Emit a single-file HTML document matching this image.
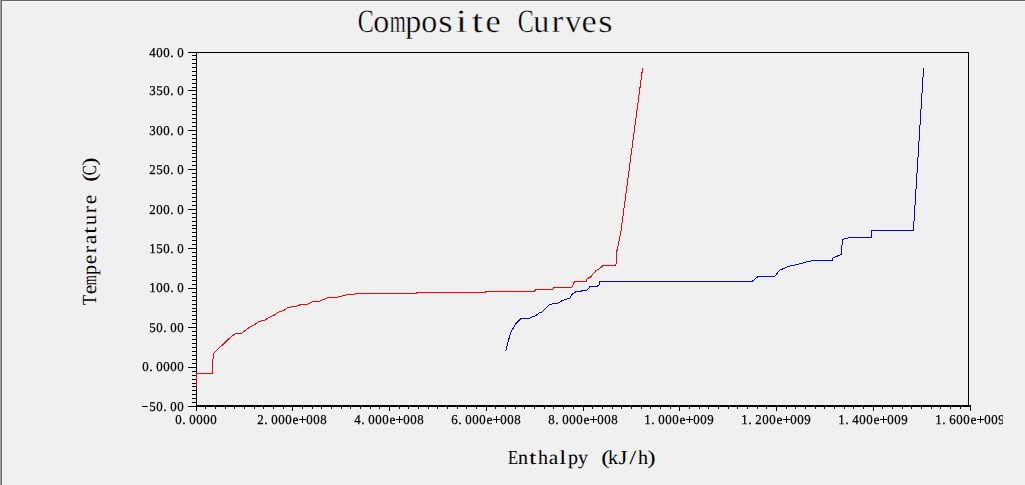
<!DOCTYPE html>
<html><head><meta charset="utf-8"><title>Composite Curves</title>
<style>
html,body{margin:0;padding:0;}
body{width:1025px;height:485px;overflow:hidden;background:#f0f0f0;position:relative;font-family:"Liberation Serif",serif;color:#000;}
svg{position:absolute;left:0;top:0;}
.t{position:absolute;left:0;top:0;width:0;height:0;}
.t span{text-rendering:geometricPrecision;position:absolute;white-space:pre;line-height:1;transform-origin:50% 50%;}
.t i{position:absolute;background:#000;display:block;}
.s{will-change:transform;}
.s span{font-size:13.5px;-webkit-text-stroke:0.25px #000;}
.a span{font-size:20px;}
.h span{font-size:32.6px;-webkit-text-stroke:0.35px #f0f0f0;}
.clip{position:absolute;left:0;top:0;width:1003px;height:485px;overflow:hidden;}
</style></head><body>

<svg width="1025" height="485" viewBox="0 0 1025 485" shape-rendering="crispEdges">
<rect x="0" y="0" width="1" height="485" fill="#a0a0a0"/>
<rect x="1" y="0" width="1024" height="1" fill="#646464"/>
<rect x="1" y="0" width="1" height="485" fill="#696969"/>
<rect x="2" y="1" width="1023" height="1" fill="#f7f7f7"/>
<rect x="2" y="1" width="1" height="484" fill="#f7f7f7"/>
<rect x="196" y="52" width="773" height="1" fill="#000"/>
<rect x="968" y="52" width="1" height="354" fill="#000"/>
<rect x="196" y="52" width="1" height="355" fill="#000"/>
<rect x="196" y="405" width="775" height="2" fill="#000"/>
<rect x="188" y="52" width="8" height="1" fill="#000"/>
<rect x="192" y="55" width="4" height="1" fill="#000"/>
<rect x="192" y="59" width="4" height="1" fill="#000"/>
<rect x="192" y="63" width="4" height="1" fill="#000"/>
<rect x="192" y="67" width="4" height="1" fill="#000"/>
<rect x="192" y="71" width="4" height="1" fill="#000"/>
<rect x="192" y="75" width="4" height="1" fill="#000"/>
<rect x="192" y="79" width="4" height="1" fill="#000"/>
<rect x="192" y="83" width="4" height="1" fill="#000"/>
<rect x="192" y="87" width="4" height="1" fill="#000"/>
<rect x="188" y="90" width="8" height="1" fill="#000"/>
<rect x="192" y="94" width="4" height="1" fill="#000"/>
<rect x="192" y="98" width="4" height="1" fill="#000"/>
<rect x="192" y="102" width="4" height="1" fill="#000"/>
<rect x="192" y="106" width="4" height="1" fill="#000"/>
<rect x="192" y="110" width="4" height="1" fill="#000"/>
<rect x="192" y="114" width="4" height="1" fill="#000"/>
<rect x="192" y="118" width="4" height="1" fill="#000"/>
<rect x="192" y="122" width="4" height="1" fill="#000"/>
<rect x="192" y="126" width="4" height="1" fill="#000"/>
<rect x="188" y="130" width="8" height="1" fill="#000"/>
<rect x="192" y="134" width="4" height="1" fill="#000"/>
<rect x="192" y="138" width="4" height="1" fill="#000"/>
<rect x="192" y="142" width="4" height="1" fill="#000"/>
<rect x="192" y="146" width="4" height="1" fill="#000"/>
<rect x="192" y="150" width="4" height="1" fill="#000"/>
<rect x="192" y="153" width="4" height="1" fill="#000"/>
<rect x="192" y="157" width="4" height="1" fill="#000"/>
<rect x="192" y="161" width="4" height="1" fill="#000"/>
<rect x="192" y="165" width="4" height="1" fill="#000"/>
<rect x="188" y="169" width="8" height="1" fill="#000"/>
<rect x="192" y="173" width="4" height="1" fill="#000"/>
<rect x="192" y="177" width="4" height="1" fill="#000"/>
<rect x="192" y="181" width="4" height="1" fill="#000"/>
<rect x="192" y="185" width="4" height="1" fill="#000"/>
<rect x="192" y="189" width="4" height="1" fill="#000"/>
<rect x="192" y="193" width="4" height="1" fill="#000"/>
<rect x="192" y="197" width="4" height="1" fill="#000"/>
<rect x="192" y="201" width="4" height="1" fill="#000"/>
<rect x="192" y="205" width="4" height="1" fill="#000"/>
<rect x="188" y="209" width="8" height="1" fill="#000"/>
<rect x="192" y="213" width="4" height="1" fill="#000"/>
<rect x="192" y="217" width="4" height="1" fill="#000"/>
<rect x="192" y="221" width="4" height="1" fill="#000"/>
<rect x="192" y="225" width="4" height="1" fill="#000"/>
<rect x="192" y="228" width="4" height="1" fill="#000"/>
<rect x="192" y="232" width="4" height="1" fill="#000"/>
<rect x="192" y="236" width="4" height="1" fill="#000"/>
<rect x="192" y="240" width="4" height="1" fill="#000"/>
<rect x="192" y="244" width="4" height="1" fill="#000"/>
<rect x="188" y="248" width="8" height="1" fill="#000"/>
<rect x="192" y="252" width="4" height="1" fill="#000"/>
<rect x="192" y="256" width="4" height="1" fill="#000"/>
<rect x="192" y="260" width="4" height="1" fill="#000"/>
<rect x="192" y="264" width="4" height="1" fill="#000"/>
<rect x="192" y="268" width="4" height="1" fill="#000"/>
<rect x="192" y="272" width="4" height="1" fill="#000"/>
<rect x="192" y="276" width="4" height="1" fill="#000"/>
<rect x="192" y="280" width="4" height="1" fill="#000"/>
<rect x="192" y="284" width="4" height="1" fill="#000"/>
<rect x="188" y="288" width="8" height="1" fill="#000"/>
<rect x="192" y="292" width="4" height="1" fill="#000"/>
<rect x="192" y="296" width="4" height="1" fill="#000"/>
<rect x="192" y="300" width="4" height="1" fill="#000"/>
<rect x="192" y="304" width="4" height="1" fill="#000"/>
<rect x="192" y="308" width="4" height="1" fill="#000"/>
<rect x="192" y="311" width="4" height="1" fill="#000"/>
<rect x="192" y="315" width="4" height="1" fill="#000"/>
<rect x="192" y="319" width="4" height="1" fill="#000"/>
<rect x="192" y="323" width="4" height="1" fill="#000"/>
<rect x="188" y="327" width="8" height="1" fill="#000"/>
<rect x="192" y="331" width="4" height="1" fill="#000"/>
<rect x="192" y="335" width="4" height="1" fill="#000"/>
<rect x="192" y="339" width="4" height="1" fill="#000"/>
<rect x="192" y="343" width="4" height="1" fill="#000"/>
<rect x="192" y="347" width="4" height="1" fill="#000"/>
<rect x="192" y="351" width="4" height="1" fill="#000"/>
<rect x="192" y="355" width="4" height="1" fill="#000"/>
<rect x="192" y="359" width="4" height="1" fill="#000"/>
<rect x="192" y="363" width="4" height="1" fill="#000"/>
<rect x="188" y="367" width="8" height="1" fill="#000"/>
<rect x="192" y="371" width="4" height="1" fill="#000"/>
<rect x="192" y="375" width="4" height="1" fill="#000"/>
<rect x="192" y="379" width="4" height="1" fill="#000"/>
<rect x="192" y="383" width="4" height="1" fill="#000"/>
<rect x="192" y="386" width="4" height="1" fill="#000"/>
<rect x="192" y="390" width="4" height="1" fill="#000"/>
<rect x="192" y="394" width="4" height="1" fill="#000"/>
<rect x="192" y="398" width="4" height="1" fill="#000"/>
<rect x="192" y="402" width="4" height="1" fill="#000"/>
<rect x="188" y="406" width="8" height="1" fill="#000"/>
<rect x="196" y="407" width="1" height="4" fill="#000"/>
<rect x="205" y="407" width="1" height="2" fill="#000"/>
<rect x="215" y="407" width="1" height="2" fill="#000"/>
<rect x="225" y="407" width="1" height="2" fill="#000"/>
<rect x="234" y="407" width="1" height="2" fill="#000"/>
<rect x="244" y="407" width="1" height="2" fill="#000"/>
<rect x="254" y="407" width="1" height="2" fill="#000"/>
<rect x="263" y="407" width="1" height="2" fill="#000"/>
<rect x="273" y="407" width="1" height="2" fill="#000"/>
<rect x="283" y="407" width="1" height="2" fill="#000"/>
<rect x="292" y="407" width="1" height="4" fill="#000"/>
<rect x="302" y="407" width="1" height="2" fill="#000"/>
<rect x="312" y="407" width="1" height="2" fill="#000"/>
<rect x="321" y="407" width="1" height="2" fill="#000"/>
<rect x="331" y="407" width="1" height="2" fill="#000"/>
<rect x="341" y="407" width="1" height="2" fill="#000"/>
<rect x="350" y="407" width="1" height="2" fill="#000"/>
<rect x="360" y="407" width="1" height="2" fill="#000"/>
<rect x="370" y="407" width="1" height="2" fill="#000"/>
<rect x="379" y="407" width="1" height="2" fill="#000"/>
<rect x="389" y="407" width="1" height="4" fill="#000"/>
<rect x="399" y="407" width="1" height="2" fill="#000"/>
<rect x="408" y="407" width="1" height="2" fill="#000"/>
<rect x="418" y="407" width="1" height="2" fill="#000"/>
<rect x="428" y="407" width="1" height="2" fill="#000"/>
<rect x="437" y="407" width="1" height="2" fill="#000"/>
<rect x="447" y="407" width="1" height="2" fill="#000"/>
<rect x="457" y="407" width="1" height="2" fill="#000"/>
<rect x="466" y="407" width="1" height="2" fill="#000"/>
<rect x="476" y="407" width="1" height="2" fill="#000"/>
<rect x="486" y="407" width="1" height="4" fill="#000"/>
<rect x="495" y="407" width="1" height="2" fill="#000"/>
<rect x="505" y="407" width="1" height="2" fill="#000"/>
<rect x="515" y="407" width="1" height="2" fill="#000"/>
<rect x="524" y="407" width="1" height="2" fill="#000"/>
<rect x="534" y="407" width="1" height="2" fill="#000"/>
<rect x="544" y="407" width="1" height="2" fill="#000"/>
<rect x="553" y="407" width="1" height="2" fill="#000"/>
<rect x="563" y="407" width="1" height="2" fill="#000"/>
<rect x="573" y="407" width="1" height="2" fill="#000"/>
<rect x="583" y="407" width="1" height="4" fill="#000"/>
<rect x="592" y="407" width="1" height="2" fill="#000"/>
<rect x="602" y="407" width="1" height="2" fill="#000"/>
<rect x="612" y="407" width="1" height="2" fill="#000"/>
<rect x="621" y="407" width="1" height="2" fill="#000"/>
<rect x="631" y="407" width="1" height="2" fill="#000"/>
<rect x="641" y="407" width="1" height="2" fill="#000"/>
<rect x="650" y="407" width="1" height="2" fill="#000"/>
<rect x="660" y="407" width="1" height="2" fill="#000"/>
<rect x="670" y="407" width="1" height="2" fill="#000"/>
<rect x="679" y="407" width="1" height="4" fill="#000"/>
<rect x="689" y="407" width="1" height="2" fill="#000"/>
<rect x="699" y="407" width="1" height="2" fill="#000"/>
<rect x="708" y="407" width="1" height="2" fill="#000"/>
<rect x="718" y="407" width="1" height="2" fill="#000"/>
<rect x="728" y="407" width="1" height="2" fill="#000"/>
<rect x="737" y="407" width="1" height="2" fill="#000"/>
<rect x="747" y="407" width="1" height="2" fill="#000"/>
<rect x="757" y="407" width="1" height="2" fill="#000"/>
<rect x="766" y="407" width="1" height="2" fill="#000"/>
<rect x="776" y="407" width="1" height="4" fill="#000"/>
<rect x="786" y="407" width="1" height="2" fill="#000"/>
<rect x="795" y="407" width="1" height="2" fill="#000"/>
<rect x="805" y="407" width="1" height="2" fill="#000"/>
<rect x="815" y="407" width="1" height="2" fill="#000"/>
<rect x="824" y="407" width="1" height="2" fill="#000"/>
<rect x="834" y="407" width="1" height="2" fill="#000"/>
<rect x="844" y="407" width="1" height="2" fill="#000"/>
<rect x="853" y="407" width="1" height="2" fill="#000"/>
<rect x="863" y="407" width="1" height="2" fill="#000"/>
<rect x="873" y="407" width="1" height="4" fill="#000"/>
<rect x="882" y="407" width="1" height="2" fill="#000"/>
<rect x="892" y="407" width="1" height="2" fill="#000"/>
<rect x="902" y="407" width="1" height="2" fill="#000"/>
<rect x="911" y="407" width="1" height="2" fill="#000"/>
<rect x="921" y="407" width="1" height="2" fill="#000"/>
<rect x="931" y="407" width="1" height="2" fill="#000"/>
<rect x="940" y="407" width="1" height="2" fill="#000"/>
<rect x="950" y="407" width="1" height="2" fill="#000"/>
<rect x="960" y="407" width="1" height="2" fill="#000"/>
<rect x="970" y="407" width="1" height="4" fill="#000"/>
<polyline points="196.5,387.0 196.5,373.5 212.5,373.5 212.5,359.5 213.5,358.5 213.5,354.0 214.5,352.4 218.8,348.4 227.5,340.0 230.8,337.0 235.8,333.4 241.2,333.4 250.6,326.6 254.9,324.6 258.6,321.4 264.3,320.4 269.2,317.2 274.2,315.2 277.9,312.3 284.1,310.3 288.3,307.3 296.5,306.4 300.5,304.5 307.5,304.5 312.5,301.5 318.5,301.5 328.5,297.5 336.5,297.5 347.5,294.5 354.5,294.5 355.5,293.5 416.2,293.5 417.2,292.5 485.0,292.5 486.0,291.5 533.7,291.5 536.2,289.6 552.3,289.6 554.0,287.5 571.9,287.5 574.4,281.5 586.2,281.5 586.9,279.0 590.6,276.9 596.2,270.4 598.7,269.4 603.1,265.5 615.5,265.5 616.5,263.0 616.5,253.0 621.0,231.0 642.6,68.0" fill="none" stroke="#ff0000" stroke-width="1" stroke-linejoin="miter"/>
<polyline points="505.7,350.8 510.4,333.3 515.5,323.9 521.2,318.2 529.2,318.2 535.7,315.7 539.3,312.7 542.2,312.1 548.7,305.2 553.7,303.4 558.0,303.0 562.4,300.5 570.2,298.0 571.6,294.6 573.1,293.6 576.2,291.5 581.2,291.2 582.5,290.5 587.4,290.0 589.8,286.6 596.9,286.3 599.4,285.0 599.6,281.5 752.0,281.5 758.0,276.5 774.7,276.5 779.4,270.4 788.1,266.5 795.0,265.0 801.2,263.5 807.5,261.5 813.7,260.5 832.5,260.5 832.8,258.1 841.3,254.4 842.5,239.4 846.2,238.2 852.5,237.5 871.5,237.5 871.5,230.5 913.4,230.5 923.6,67.8" fill="none" stroke="#0000ff" stroke-width="1" stroke-linejoin="miter"/>
</svg>
<div class="t h"><span style="left:354.63px;top:6.20px;transform:scale(0.736,1.000);transform-origin:50% 27.30px;">C</span><span style="left:373.35px;top:6.20px;transform:scale(0.982,1.000);transform-origin:50% 27.30px;">o</span><span style="left:384.82px;top:6.20px;transform:scale(0.631,1.000);transform-origin:50% 27.30px;">m</span><span style="left:405.35px;top:6.20px;transform:scale(0.982,1.000);transform-origin:50% 27.30px;">p</span><span style="left:421.35px;top:6.20px;transform:scale(0.982,1.000);transform-origin:50% 27.30px;">o</span><span style="left:439.16px;top:6.20px;transform:scale(1.131,1.000);transform-origin:50% 27.30px;">s</span><span style="left:456.97px;top:6.20px;transform:scale(1.250,1.000);transform-origin:50% 27.30px;">i</span><span style="left:472.97px;top:6.20px;transform:scale(1.250,1.000);transform-origin:50% 27.30px;">t</span><span style="left:486.27px;top:6.20px;transform:scale(1.053,1.000);transform-origin:50% 27.30px;">e</span><span style="left:514.63px;top:6.20px;transform:scale(0.736,1.000);transform-origin:50% 27.30px;">C</span><span style="left:533.35px;top:6.20px;transform:scale(0.982,1.000);transform-origin:50% 27.30px;">u</span><span style="left:552.07px;top:6.20px;transform:scale(1.080,1.000);transform-origin:50% 27.30px;">r</span><span style="left:565.35px;top:6.20px;transform:scale(0.982,1.000);transform-origin:50% 27.30px;">v</span><span style="left:582.27px;top:6.20px;transform:scale(1.053,1.000);transform-origin:50% 27.30px;">e</span><span style="left:599.16px;top:6.20px;transform:scale(1.131,1.000);transform-origin:50% 27.30px;">s</span></div>
<div class="t a"><span style="left:506.89px;top:447.95px;transform:scale(0.819,1.000);transform-origin:50% 16.75px;">E</span><span style="left:518.00px;top:447.95px;">n</span><span style="left:530.22px;top:447.95px;transform:scale(1.250,1.000);transform-origin:50% 16.75px;">t</span><span style="left:538.00px;top:447.95px;">h</span><span style="left:548.56px;top:447.95px;transform:scale(1.063,1.000);transform-origin:50% 16.75px;">a</span><span style="left:560.22px;top:447.95px;transform:scale(1.250,1.000);transform-origin:50% 16.75px;">l</span><span style="left:568.00px;top:447.95px;">p</span><span style="left:578.00px;top:447.95px;">y</span><span style="left:601.67px;top:447.95px;transform:scale(1.250,1.000);transform-origin:50% 16.75px;">(</span><span style="left:608.00px;top:447.95px;">k</span><span style="left:619.11px;top:447.95px;transform:scale(1.142,1.000);transform-origin:50% 16.75px;">J</span><span style="left:630.22px;top:447.95px;transform:scale(1.250,1.000);transform-origin:50% 16.75px;">/</span><span style="left:638.00px;top:447.95px;">h</span><span style="left:647.67px;top:447.95px;transform:scale(1.250,1.000);transform-origin:50% 16.75px;">)</span></div>
<div class="t a" style="transform:translate(96.5px,305px) rotate(-90deg);transform-origin:0 0;"><span style="left:-1.11px;top:-16.75px;transform:scale(0.819,1.000);transform-origin:50% 16.75px;">T</span><span style="left:10.56px;top:-16.75px;transform:scale(1.063,1.000);transform-origin:50% 16.75px;">e</span><span style="left:17.22px;top:-16.75px;transform:scale(0.643,1.000);transform-origin:50% 16.75px;">m</span><span style="left:30.00px;top:-16.75px;">p</span><span style="left:40.56px;top:-16.75px;transform:scale(1.063,1.000);transform-origin:50% 16.75px;">e</span><span style="left:51.67px;top:-16.75px;transform:scale(1.080,1.000);transform-origin:50% 16.75px;">r</span><span style="left:60.56px;top:-16.75px;transform:scale(1.063,1.000);transform-origin:50% 16.75px;">a</span><span style="left:72.22px;top:-16.75px;transform:scale(1.250,1.000);transform-origin:50% 16.75px;">t</span><span style="left:80.00px;top:-16.75px;">u</span><span style="left:91.67px;top:-16.75px;transform:scale(1.080,1.000);transform-origin:50% 16.75px;">r</span><span style="left:100.56px;top:-16.75px;transform:scale(1.063,1.000);transform-origin:50% 16.75px;">e</span><span style="left:123.67px;top:-16.75px;transform:scale(1.250,1.000);transform-origin:50% 16.75px;">(</span><span style="left:128.33px;top:-16.75px;transform:scale(0.750,1.000);transform-origin:50% 16.75px;">C</span><span style="left:139.67px;top:-16.75px;transform:scale(1.250,1.000);transform-origin:50% 16.75px;">)</span></div>
<div class="t s"><span style="left:149.12px;top:45.89px;transform:scale(0.954,1.000);transform-origin:50% 11.31px;">4</span><span style="left:156.12px;top:45.89px;transform:scale(0.954,1.000);transform-origin:50% 11.31px;">0</span><span style="left:163.12px;top:45.89px;transform:scale(0.954,1.000);transform-origin:50% 11.31px;">0</span><span style="left:170.34px;top:45.89px;">.</span><span style="left:177.12px;top:45.89px;transform:scale(0.954,1.000);transform-origin:50% 11.31px;">0</span><span style="left:149.12px;top:83.89px;transform:scale(0.954,1.000);transform-origin:50% 11.31px;">3</span><span style="left:156.12px;top:83.89px;transform:scale(0.954,1.000);transform-origin:50% 11.31px;">5</span><span style="left:163.12px;top:83.89px;transform:scale(0.954,1.000);transform-origin:50% 11.31px;">0</span><span style="left:170.34px;top:83.89px;">.</span><span style="left:177.12px;top:83.89px;transform:scale(0.954,1.000);transform-origin:50% 11.31px;">0</span><span style="left:149.12px;top:123.89px;transform:scale(0.954,1.000);transform-origin:50% 11.31px;">3</span><span style="left:156.12px;top:123.89px;transform:scale(0.954,1.000);transform-origin:50% 11.31px;">0</span><span style="left:163.12px;top:123.89px;transform:scale(0.954,1.000);transform-origin:50% 11.31px;">0</span><span style="left:170.34px;top:123.89px;">.</span><span style="left:177.12px;top:123.89px;transform:scale(0.954,1.000);transform-origin:50% 11.31px;">0</span><span style="left:149.12px;top:162.89px;transform:scale(0.954,1.000);transform-origin:50% 11.31px;">2</span><span style="left:156.12px;top:162.89px;transform:scale(0.954,1.000);transform-origin:50% 11.31px;">5</span><span style="left:163.12px;top:162.89px;transform:scale(0.954,1.000);transform-origin:50% 11.31px;">0</span><span style="left:170.34px;top:162.89px;">.</span><span style="left:177.12px;top:162.89px;transform:scale(0.954,1.000);transform-origin:50% 11.31px;">0</span><span style="left:149.12px;top:202.89px;transform:scale(0.954,1.000);transform-origin:50% 11.31px;">2</span><span style="left:156.12px;top:202.89px;transform:scale(0.954,1.000);transform-origin:50% 11.31px;">0</span><span style="left:163.12px;top:202.89px;transform:scale(0.954,1.000);transform-origin:50% 11.31px;">0</span><span style="left:170.34px;top:202.89px;">.</span><span style="left:177.12px;top:202.89px;transform:scale(0.954,1.000);transform-origin:50% 11.31px;">0</span><span style="left:149.12px;top:241.89px;transform:scale(0.954,1.000);transform-origin:50% 11.31px;">1</span><span style="left:156.12px;top:241.89px;transform:scale(0.954,1.000);transform-origin:50% 11.31px;">5</span><span style="left:163.12px;top:241.89px;transform:scale(0.954,1.000);transform-origin:50% 11.31px;">0</span><span style="left:170.34px;top:241.89px;">.</span><span style="left:177.12px;top:241.89px;transform:scale(0.954,1.000);transform-origin:50% 11.31px;">0</span><span style="left:149.12px;top:280.89px;transform:scale(0.954,1.000);transform-origin:50% 11.31px;">1</span><span style="left:156.12px;top:280.89px;transform:scale(0.954,1.000);transform-origin:50% 11.31px;">0</span><span style="left:163.12px;top:280.89px;transform:scale(0.954,1.000);transform-origin:50% 11.31px;">0</span><span style="left:170.34px;top:280.89px;">.</span><span style="left:177.12px;top:280.89px;transform:scale(0.954,1.000);transform-origin:50% 11.31px;">0</span><span style="left:149.12px;top:320.89px;transform:scale(0.954,1.000);transform-origin:50% 11.31px;">5</span><span style="left:156.12px;top:320.89px;transform:scale(0.954,1.000);transform-origin:50% 11.31px;">0</span><span style="left:163.34px;top:320.89px;">.</span><span style="left:170.12px;top:320.89px;transform:scale(0.954,1.000);transform-origin:50% 11.31px;">0</span><span style="left:177.12px;top:320.89px;transform:scale(0.954,1.000);transform-origin:50% 11.31px;">0</span><span style="left:142.12px;top:359.89px;transform:scale(0.954,1.000);transform-origin:50% 11.31px;">0</span><span style="left:149.34px;top:359.89px;">.</span><span style="left:156.12px;top:359.89px;transform:scale(0.954,1.000);transform-origin:50% 11.31px;">0</span><span style="left:163.12px;top:359.89px;transform:scale(0.954,1.000);transform-origin:50% 11.31px;">0</span><span style="left:170.12px;top:359.89px;transform:scale(0.954,1.000);transform-origin:50% 11.31px;">0</span><span style="left:177.12px;top:359.89px;transform:scale(0.954,1.000);transform-origin:50% 11.31px;">0</span><i style="left:142px;top:406px;width:6px;height:1px"></i><span style="left:149.12px;top:399.89px;transform:scale(0.954,1.000);transform-origin:50% 11.31px;">5</span><span style="left:156.12px;top:399.89px;transform:scale(0.954,1.000);transform-origin:50% 11.31px;">0</span><span style="left:163.34px;top:399.89px;">.</span><span style="left:170.12px;top:399.89px;transform:scale(0.954,1.000);transform-origin:50% 11.31px;">0</span><span style="left:177.12px;top:399.89px;transform:scale(0.954,1.000);transform-origin:50% 11.31px;">0</span></div>
<div class="clip"><div class="t s"><span style="left:175.12px;top:412.89px;transform:scale(0.954,1.000);transform-origin:50% 11.31px;">0</span><span style="left:182.34px;top:412.89px;">.</span><span style="left:189.12px;top:412.89px;transform:scale(0.954,1.000);transform-origin:50% 11.31px;">0</span><span style="left:196.12px;top:412.89px;transform:scale(0.954,1.000);transform-origin:50% 11.31px;">0</span><span style="left:203.12px;top:412.89px;transform:scale(0.954,1.000);transform-origin:50% 11.31px;">0</span><span style="left:210.12px;top:412.89px;transform:scale(0.954,1.000);transform-origin:50% 11.31px;">0</span><span style="left:257.12px;top:412.89px;transform:scale(0.954,1.000);transform-origin:50% 11.31px;">2</span><span style="left:264.34px;top:412.89px;">.</span><span style="left:271.12px;top:412.89px;transform:scale(0.954,1.000);transform-origin:50% 11.31px;">0</span><span style="left:278.12px;top:412.89px;transform:scale(0.954,1.000);transform-origin:50% 11.31px;">0</span><span style="left:285.12px;top:412.89px;transform:scale(0.954,1.000);transform-origin:50% 11.31px;">0</span><span style="left:292.50px;top:412.89px;">e</span><i style="left:299px;top:419px;width:7px;height:1px"></i><i style="left:302px;top:416px;width:1px;height:7px"></i><span style="left:306.12px;top:412.89px;transform:scale(0.954,1.000);transform-origin:50% 11.31px;">0</span><span style="left:313.12px;top:412.89px;transform:scale(0.954,1.000);transform-origin:50% 11.31px;">0</span><span style="left:320.12px;top:412.89px;transform:scale(0.954,1.000);transform-origin:50% 11.31px;">8</span><span style="left:354.12px;top:412.89px;transform:scale(0.954,1.000);transform-origin:50% 11.31px;">4</span><span style="left:361.34px;top:412.89px;">.</span><span style="left:368.12px;top:412.89px;transform:scale(0.954,1.000);transform-origin:50% 11.31px;">0</span><span style="left:375.12px;top:412.89px;transform:scale(0.954,1.000);transform-origin:50% 11.31px;">0</span><span style="left:382.12px;top:412.89px;transform:scale(0.954,1.000);transform-origin:50% 11.31px;">0</span><span style="left:389.50px;top:412.89px;">e</span><i style="left:396px;top:419px;width:7px;height:1px"></i><i style="left:399px;top:416px;width:1px;height:7px"></i><span style="left:403.12px;top:412.89px;transform:scale(0.954,1.000);transform-origin:50% 11.31px;">0</span><span style="left:410.12px;top:412.89px;transform:scale(0.954,1.000);transform-origin:50% 11.31px;">0</span><span style="left:417.12px;top:412.89px;transform:scale(0.954,1.000);transform-origin:50% 11.31px;">8</span><span style="left:451.12px;top:412.89px;transform:scale(0.954,1.000);transform-origin:50% 11.31px;">6</span><span style="left:458.34px;top:412.89px;">.</span><span style="left:465.12px;top:412.89px;transform:scale(0.954,1.000);transform-origin:50% 11.31px;">0</span><span style="left:472.12px;top:412.89px;transform:scale(0.954,1.000);transform-origin:50% 11.31px;">0</span><span style="left:479.12px;top:412.89px;transform:scale(0.954,1.000);transform-origin:50% 11.31px;">0</span><span style="left:486.50px;top:412.89px;">e</span><i style="left:493px;top:419px;width:7px;height:1px"></i><i style="left:496px;top:416px;width:1px;height:7px"></i><span style="left:500.12px;top:412.89px;transform:scale(0.954,1.000);transform-origin:50% 11.31px;">0</span><span style="left:507.12px;top:412.89px;transform:scale(0.954,1.000);transform-origin:50% 11.31px;">0</span><span style="left:514.12px;top:412.89px;transform:scale(0.954,1.000);transform-origin:50% 11.31px;">8</span><span style="left:548.12px;top:412.89px;transform:scale(0.954,1.000);transform-origin:50% 11.31px;">8</span><span style="left:555.34px;top:412.89px;">.</span><span style="left:562.12px;top:412.89px;transform:scale(0.954,1.000);transform-origin:50% 11.31px;">0</span><span style="left:569.12px;top:412.89px;transform:scale(0.954,1.000);transform-origin:50% 11.31px;">0</span><span style="left:576.12px;top:412.89px;transform:scale(0.954,1.000);transform-origin:50% 11.31px;">0</span><span style="left:583.50px;top:412.89px;">e</span><i style="left:590px;top:419px;width:7px;height:1px"></i><i style="left:593px;top:416px;width:1px;height:7px"></i><span style="left:597.12px;top:412.89px;transform:scale(0.954,1.000);transform-origin:50% 11.31px;">0</span><span style="left:604.12px;top:412.89px;transform:scale(0.954,1.000);transform-origin:50% 11.31px;">0</span><span style="left:611.12px;top:412.89px;transform:scale(0.954,1.000);transform-origin:50% 11.31px;">8</span><span style="left:644.12px;top:412.89px;transform:scale(0.954,1.000);transform-origin:50% 11.31px;">1</span><span style="left:651.34px;top:412.89px;">.</span><span style="left:658.12px;top:412.89px;transform:scale(0.954,1.000);transform-origin:50% 11.31px;">0</span><span style="left:665.12px;top:412.89px;transform:scale(0.954,1.000);transform-origin:50% 11.31px;">0</span><span style="left:672.12px;top:412.89px;transform:scale(0.954,1.000);transform-origin:50% 11.31px;">0</span><span style="left:679.50px;top:412.89px;">e</span><i style="left:686px;top:419px;width:7px;height:1px"></i><i style="left:689px;top:416px;width:1px;height:7px"></i><span style="left:693.12px;top:412.89px;transform:scale(0.954,1.000);transform-origin:50% 11.31px;">0</span><span style="left:700.12px;top:412.89px;transform:scale(0.954,1.000);transform-origin:50% 11.31px;">0</span><span style="left:707.12px;top:412.89px;transform:scale(0.954,1.000);transform-origin:50% 11.31px;">9</span><span style="left:741.12px;top:412.89px;transform:scale(0.954,1.000);transform-origin:50% 11.31px;">1</span><span style="left:748.34px;top:412.89px;">.</span><span style="left:755.12px;top:412.89px;transform:scale(0.954,1.000);transform-origin:50% 11.31px;">2</span><span style="left:762.12px;top:412.89px;transform:scale(0.954,1.000);transform-origin:50% 11.31px;">0</span><span style="left:769.12px;top:412.89px;transform:scale(0.954,1.000);transform-origin:50% 11.31px;">0</span><span style="left:776.50px;top:412.89px;">e</span><i style="left:783px;top:419px;width:7px;height:1px"></i><i style="left:786px;top:416px;width:1px;height:7px"></i><span style="left:790.12px;top:412.89px;transform:scale(0.954,1.000);transform-origin:50% 11.31px;">0</span><span style="left:797.12px;top:412.89px;transform:scale(0.954,1.000);transform-origin:50% 11.31px;">0</span><span style="left:804.12px;top:412.89px;transform:scale(0.954,1.000);transform-origin:50% 11.31px;">9</span><span style="left:838.12px;top:412.89px;transform:scale(0.954,1.000);transform-origin:50% 11.31px;">1</span><span style="left:845.34px;top:412.89px;">.</span><span style="left:852.12px;top:412.89px;transform:scale(0.954,1.000);transform-origin:50% 11.31px;">4</span><span style="left:859.12px;top:412.89px;transform:scale(0.954,1.000);transform-origin:50% 11.31px;">0</span><span style="left:866.12px;top:412.89px;transform:scale(0.954,1.000);transform-origin:50% 11.31px;">0</span><span style="left:873.50px;top:412.89px;">e</span><i style="left:880px;top:419px;width:7px;height:1px"></i><i style="left:883px;top:416px;width:1px;height:7px"></i><span style="left:887.12px;top:412.89px;transform:scale(0.954,1.000);transform-origin:50% 11.31px;">0</span><span style="left:894.12px;top:412.89px;transform:scale(0.954,1.000);transform-origin:50% 11.31px;">0</span><span style="left:901.12px;top:412.89px;transform:scale(0.954,1.000);transform-origin:50% 11.31px;">9</span><span style="left:935.12px;top:412.89px;transform:scale(0.954,1.000);transform-origin:50% 11.31px;">1</span><span style="left:942.34px;top:412.89px;">.</span><span style="left:949.12px;top:412.89px;transform:scale(0.954,1.000);transform-origin:50% 11.31px;">6</span><span style="left:956.12px;top:412.89px;transform:scale(0.954,1.000);transform-origin:50% 11.31px;">0</span><span style="left:963.12px;top:412.89px;transform:scale(0.954,1.000);transform-origin:50% 11.31px;">0</span><span style="left:970.50px;top:412.89px;">e</span><i style="left:977px;top:419px;width:7px;height:1px"></i><i style="left:980px;top:416px;width:1px;height:7px"></i><span style="left:984.12px;top:412.89px;transform:scale(0.954,1.000);transform-origin:50% 11.31px;">0</span><span style="left:991.12px;top:412.89px;transform:scale(0.954,1.000);transform-origin:50% 11.31px;">0</span><span style="left:998.12px;top:412.89px;transform:scale(0.954,1.000);transform-origin:50% 11.31px;">9</span></div></div>
</body></html>
